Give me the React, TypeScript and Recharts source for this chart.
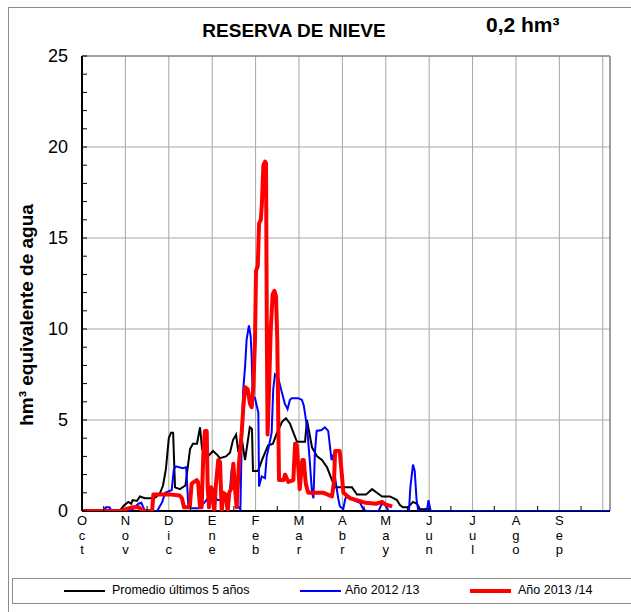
import React from 'react';
import { LineChart, Line, XAxis, YAxis, ReferenceLine } from 'recharts';

// ---- axis labels / ticks ----
const MONTHS = ['Oct', 'Nov', 'Dic', 'Ene', 'Feb', 'Mar', 'Abr', 'May', 'Jun', 'Jul', 'Ago', 'Sep'];
const X_TICKS = [0, 15, 30, 45, 60, 75, 90, 105, 120, 135, 150, 165, 180, 195, 210, 225, 240, 255, 270, 285, 300, 315, 330, 345, 360];
const X_GRID = [30, 60, 90, 120, 150, 180, 210, 240, 270, 300, 330, 360];
const Y_TICKS = [0, 1, 2, 3, 4, 5, 6, 7, 8, 9, 10, 11, 12, 13, 14, 15, 16, 17, 18, 19, 20, 21, 22, 23, 24, 25];
const Y_GRID = [5, 10, 15, 20];

// ---- series: day of hydrological year (from 1 Oct) and value in hm3 ----
const promDays = [0, 26, 29, 32, 34, 35, 38, 40, 43.5, 47, 51, 54, 56, 58, 60, 61.5, 63, 64.3, 67.7, 71.5, 74.7, 76.7, 79.5, 81.6, 83, 87, 90.6, 93.3, 95.4, 99.5, 102.3, 104.4, 106.5, 107.8, 110.6, 112.7, 116, 117.5, 118.2, 121.7, 124.4, 128.6, 132, 134.8, 138.3, 141, 143.8, 145.2, 148.6, 151.4, 154.2, 155.5, 159, 162.5, 165.9, 169.4, 172.8, 174.9, 178.4, 183.2, 186.6, 190.1, 196.3, 200.5, 203.9, 207.4, 212.9, 217.7, 219.8, 221.9, 225.4, 228.8, 231.6, 233.6, 237.1, 239.2, 241.3, 365];
const promVals = [0, 0, 0.3, 0.5, 0.4, 0.6, 0.55, 0.8, 0.7, 0.7, 0.75, 1.0, 1.4, 2.3, 4.0, 4.3, 4.3, 1.3, 1.2, 1.4, 3.4, 3.7, 3.7, 4.6, 3.4, 3.0, 3.3, 3.1, 2.9, 3.0, 3.2, 3.9, 4.2, 3.4, 3.9, 2.8, 4.6, 4.5, 2.2, 2.2, 2.8, 3.6, 3.7, 4.3, 4.9, 5.1, 4.8, 4.5, 3.8, 3.8, 3.8, 5.0, 3.5, 3.0, 2.8, 2.4, 1.7, 1.3, 1.3, 1.3, 1.3, 0.9, 0.9, 1.2, 1.0, 0.8, 0.8, 0.6, 0.33, 0.2, 0.2, 0.5, 0.4, 0.1, 0.1, 0.15, 0, 0];

const y1213Days = [0, 15, 16.5, 19, 20.5, 33, 35, 39, 41, 43.5, 52, 55.5, 57.5, 62, 63.5, 65, 69.5, 72, 73.5, 75, 81, 85, 89, 91, 93.5, 97.5, 102, 103.5, 104.5, 106, 107, 109.5, 110.5, 111.5, 112.7, 113.8, 115.4, 116.6, 117.3, 118, 119.6, 121.9, 122.4, 124.2, 126.5, 127.7, 128.8, 131.1, 132.2, 133.4, 135.7, 137.9, 140.2, 142.1, 143.7, 144.9, 149.5, 152, 153.3, 155.6, 157.4, 159, 160, 161, 162.2, 165.6, 167.9, 170.2, 172.5, 173.7, 174.8, 177.1, 178.3, 180.6, 181.8, 183, 187.6, 192.2, 194.5, 196.5, 205, 207, 209, 212, 226, 227, 228.8, 230, 231.3, 232.5, 238.5, 239.5, 241, 365];
const y1213Vals = [0, 0, 0.2, 0.2, 0, 0, 0.1, 0.4, 0.45, 0, 0, 0.5, 1.0, 1.15, 2.3, 2.45, 2.35, 2.4, 0.3, 0.15, 0.15, 0.5, 0.9, 1.0, 0.6, 0.6, 0.9, 2.3, 2.45, 1.5, 0.3, 0.1, 4.3, 6.7, 7.9, 9.4, 10.2, 9.6, 8.5, 6.3, 6.2, 5.4, 1.35, 1.9, 1.8, 3.0, 3.4, 4.3, 6.7, 7.5, 7.3, 6.6, 5.9, 5.6, 6.1, 6.2, 6.2, 6.1, 5.8, 4.6, 2.8, 1.0, 0.7, 3.2, 4.4, 4.45, 4.6, 4.4, 2.8, 3.1, 1.9, 0.7, 0.25, 0.1, 0.6, 0.9, 0.6, 0.45, 0.1, 0, 0, 0.35, 0.4, 0, 0, 1.3, 2.55, 2.2, 0.6, 0, 0, 0.6, 0, 0];

const y1314Days = [0, 27.6, 30, 34.6, 39.4, 42, 48.5, 49.3, 62, 67.5, 69.1, 70.5, 74.5, 75.8, 79.3, 80.2, 81.6, 82.7, 83.9, 85, 86.2, 86.9, 87.8, 89.2, 90.2, 91.5, 92.4, 94.2, 95.4, 96.6, 97.7, 99.3, 100.7, 101.8, 103.5, 104.6, 105.8, 106.9, 108.5, 110.4, 111.5, 112.7, 114.5, 116.1, 117.3, 118.4, 119.6, 120.3, 121.5, 122.4, 123.6, 124.3, 125.4, 126.6, 127.2, 127.8, 128.3, 129.4, 130.5, 131.8, 133, 134.1, 135, 136.2, 139.4, 140.4, 142.6, 146.1, 147.3, 148.5, 150.5, 152.3, 153.3, 154.7, 156.4, 167, 172.8, 174.2, 175, 178.1, 179.3, 180.7, 185.3, 190, 196, 203.3, 207.4, 210, 214.4];
const y1314Vals = [0, 0, 0.1, 0.2, 0.2, 0, 0, 0.9, 0.9, 0.85, 0.7, 0.2, 0.2, 1.5, 1.7, 1.6, 0.2, 0.2, 3.2, 4.4, 4.4, 1.3, 0.2, 1.3, 1.1, 0, 1.3, 2.8, 2.7, 0, 1.0, 0.9, 0, 1.0, 1.3, 2.6, 1.2, 0.2, 2.6, 4.3, 5.7, 6.8, 6.7, 5.9, 5.7, 6.8, 9.4, 13.2, 13.45, 15.8, 16.0, 16.8, 19.0, 19.2, 19.1, 9.4, 4.2, 7.0, 10.0, 11.9, 12.1, 11.8, 9.4, 1.7, 1.7, 2.0, 1.6, 1.7, 3.7, 3.6, 1.2, 2.8, 2.8, 1.5, 1.0, 1.0, 0.8, 1.6, 3.3, 3.3, 2.3, 1.0, 0.7, 0.6, 0.45, 0.4, 0.5, 0.35, 0.25];

const toPoints = (days: number[], vals: number[]) => days.map((d, i) => ({ d, v: vals[i] }));
const promData = toPoints(promDays, promVals);
const y1213Data = toPoints(y1213Days, y1213Vals);
const y1314Data = toPoints(y1314Days, y1314Vals);

const FONT = 'Arial, "Liberation Sans", sans-serif';
const GRID_COLOR = '#a6a6a6';

const XTick = (props: any) => {
  const { x, y, payload } = props;
  const v = payload.value as number;
  if (v % 30 !== 0) {
    return <line x1={x} x2={x} y1={y} y2={y - 5} stroke="#000" strokeWidth={1} />;
  }
  const idx = v / 30;
  if (idx >= MONTHS.length) return <g />;
  const letters = MONTHS[idx].split('');
  return (
    <g>
      {letters.map((ch, i) => (
        <text key={i} x={x} y={y + 14 + i * 14.5} textAnchor="middle" fontSize={13} fontFamily={FONT} fill="#000">
          {ch}
        </text>
      ))}
    </g>
  );
};

const YTick = (props: any) => {
  const { x, y, payload } = props;
  const v = payload.value as number;
  const axisX = x + 14;
  return (
    <g>
      <line x1={axisX} x2={axisX + 5} y1={y} y2={y} stroke="#000" strokeWidth={1} />
      {v % 5 === 0 && (
        <text x={x} y={y + 6} textAnchor="end" fontSize={18} fontFamily={FONT} fill="#000">
          {v}
        </text>
      )}
    </g>
  );
};

const legendItems = [
  { label: 'Promedio últimos 5 años', color: '#000000', width: 2, lineLeft: 64, textLeft: 112 },
  { label: 'Año 2012 /13', color: '#0000ff', width: 2, lineLeft: 300, textLeft: 345 },
  { label: 'Año 2013 /14', color: '#ff0000', width: 4, lineLeft: 470, textLeft: 518 },
];

export default function App() {
  return (
    <div style={{ position: 'relative', width: 631, height: 612, overflow: 'hidden', fontFamily: FONT, background: '#fff' }}>
      <style>{'html,body{margin:0;padding:0;overflow:hidden;}'}</style>
      <div style={{ position: 'absolute', left: 8, top: 7, width: 660, height: 660, border: '1px solid #8c8c8c', boxSizing: 'border-box' }} />
      <LineChart width={623} height={600} margin={{ top: 49, right: 21, bottom: 36, left: 0 }} style={{ position: 'absolute', left: 8, top: 7 }}>
        <XAxis
          dataKey="d"
          type="number"
          domain={[0, 365]}
          ticks={X_TICKS}
          interval={0}
          tickSize={0}
          tickMargin={0}
          tickLine={false}
          tick={<XTick />}
          axisLine={false}
          height={60}
          allowDataOverflow
        />
        <YAxis
          type="number"
          domain={[0, 25]}
          ticks={Y_TICKS}
          interval={0}
          tickSize={0}
          tickMargin={14}
          tickLine={false}
          tick={<YTick />}
          axisLine={{ stroke: '#000', strokeWidth: 2 }}
          width={74}
          allowDataOverflow
        />
        {X_GRID.map((g) => (
          <ReferenceLine key={'gx' + g} x={g} stroke={GRID_COLOR} strokeWidth={1} />
        ))}
        {Y_GRID.map((g) => (
          <ReferenceLine key={'gy' + g} y={g} stroke={GRID_COLOR} strokeWidth={1} />
        ))}
        <ReferenceLine y={25} stroke="#7f7f7f" strokeWidth={1.5} />
        <ReferenceLine x={365} stroke="#7f7f7f" strokeWidth={1.5} />
        <ReferenceLine y={0} stroke="#000" strokeWidth={2} />
        <Line data={promData} dataKey="v" type="linear" stroke="#000000" strokeWidth={2} dot={false} isAnimationActive={false} />
        <Line data={y1213Data} dataKey="v" type="linear" stroke="#0000ff" strokeWidth={2} dot={false} isAnimationActive={false} />
        <Line data={y1314Data} dataKey="v" type="linear" stroke="#ff0000" strokeWidth={4} dot={false} isAnimationActive={false} strokeLinejoin="round" />
      </LineChart>
      <svg width={631} height={612} style={{ position: 'absolute', left: 0, top: 0, pointerEvents: 'none' }}>
        <text x={294} y={37} textAnchor="middle" fontSize={19} fontWeight="bold" fontFamily={FONT} fill="#000">
          RESERVA DE NIEVE
        </text>
        <text x={486} y={32} fontSize={21} fontWeight="bold" fontFamily={FONT} fill="#000">
          0,2 hm³
        </text>
        <text
          transform="translate(33, 315) rotate(-90)"
          textAnchor="middle"
          fontSize={19}
          fontWeight="bold"
          fontFamily={FONT}
          fill="#000"
        >
          hm³ equivalente de agua
        </text>
      </svg>
      <div style={{ position: 'absolute', left: 12, top: 578, width: 660, height: 26, border: '1px solid #8c8c8c', boxSizing: 'border-box' }}>
        {legendItems.map((it) => (
          <React.Fragment key={it.label}>
            <div style={{ position: 'absolute', left: it.lineLeft - 13, top: 12 - it.width / 2, width: 41, height: it.width, background: it.color }} />
            <div style={{ position: 'absolute', left: it.textLeft - 13, top: 4, fontSize: 12.5, lineHeight: '15px', color: '#000', whiteSpace: 'nowrap' }}>
              {it.label}
            </div>
          </React.Fragment>
        ))}
      </div>
    </div>
  );
}
